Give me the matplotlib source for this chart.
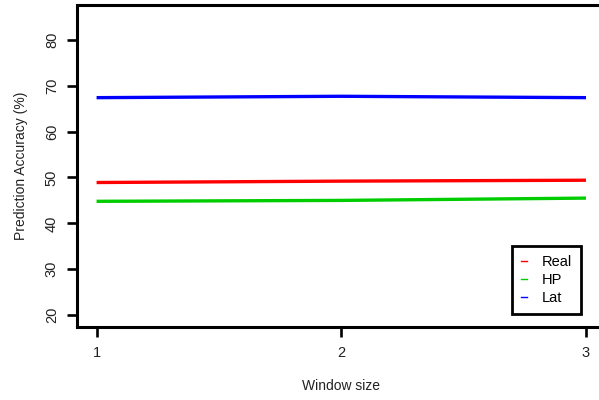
import matplotlib
matplotlib.use("Agg")
import matplotlib.pyplot as plt
from matplotlib.lines import Line2D

plt.rcParams['font.family'] = ['Liberation Sans', 'DejaVu Sans']

window_size = [1, 2, 3]
real = [48.9, 49.2, 49.4]
hp = [44.8, 45.0, 45.5]
lat = [67.4, 67.7, 67.4]
series_names = ["Real", "HP", "Lat"]
colors = ["#FF0000", "#00CD00", "#0000FF"]
x_ticks = [1, 2, 3]
y_ticks = [20, 30, 40, 50, 60, 70, 80]

fig = plt.figure(figsize=(5.99, 4.0), dpi=100)
ax = fig.add_axes([77/599, 73/400, 528.6/599, 322/400])

for vals, c in zip([real, hp, lat], colors):
    ax.plot(window_size, vals, color=c, lw=2.4, solid_capstyle='butt')

ax.set_xlim(0.92, 3.08)
ax.set_ylim(17.4, 87.6)
ax.set_xticks(x_ticks)
ax.set_xticklabels([str(t) for t in x_ticks])
ax.set_yticks(y_ticks)
ax.set_yticklabels([str(t) for t in y_ticks], rotation=90, va='center')
for s in ax.spines.values():
    s.set_linewidth(2.2)
ax.tick_params(axis='both', length=7, width=1.9, labelsize=10.5, colors='black',
               labelcolor='#222222')
ax.tick_params(axis='x', pad=7)
ax.tick_params(axis='y', pad=6)
ax.set_xlabel("Window size", fontsize=10, labelpad=13, color='#222222')
ax.set_ylabel("Prediction Accuracy (%)", fontsize=10, labelpad=12, color='#222222')

handles = [Line2D([0], [0], color=c, lw=1) for c in colors]
leg = ax.legend(handles, series_names, loc='lower left',
                bbox_to_anchor=(0.823, 0.040), borderaxespad=0,
                fontsize=10.5, handlelength=0.45, handletextpad=1.0,
                labelspacing=0.28, borderpad=0.6, fancybox=False,
                framealpha=1, edgecolor='black')
leg.get_frame().set_linewidth(2.0)
leg._legend_box.sep = 0

fig.savefig("out.png", dpi=100)
